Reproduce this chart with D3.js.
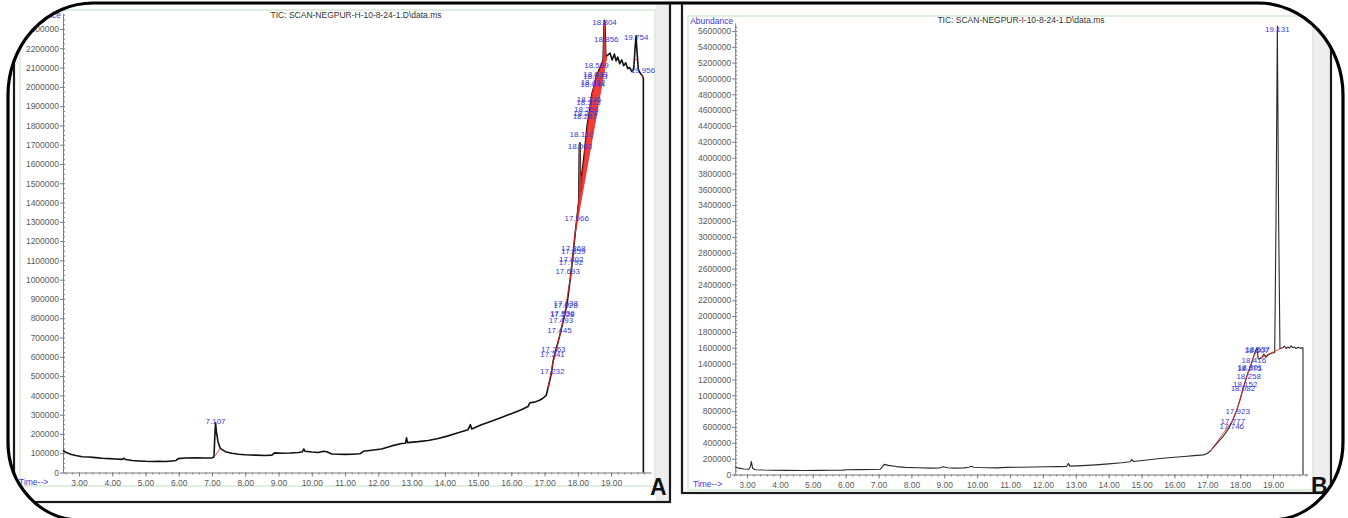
<!DOCTYPE html>
<html><head><meta charset="utf-8">
<script src="https://cdn.jsdelivr.net/npm/d3@7"></script>
<style>
body{margin:0;background:#fff}
svg{display:block}
text{font-family:"Liberation Sans",Arial,sans-serif}
</style>
</head><body>
<svg id="c" width="1348" height="518"></svg>
<script>
// ---- Sample H : total ion chromatogram ----
const traceTimeA = [2.52,2.6,2.75,2.9,3.1,3.3,3.5,3.7,3.9,4.1,4.3,4.35,4.4,4.6,4.8,5.0,5.2,5.4,5.6,5.8,5.92,5.98,6.2,6.5,6.8,7.0,7.06,7.08,7.107,7.13,7.18,7.25,7.4,7.6,7.8,8.0,8.3,8.6,8.8,8.88,9.1,9.35,9.6,9.72,9.76,9.8,10.0,10.2,10.35,10.45,10.6,10.8,11.0,11.2,11.45,11.55,11.8,12.1,12.4,12.7,12.82,12.85,12.88,13.2,13.5,13.8,14.1,14.4,14.7,14.77,14.81,15.1,15.4,15.7,16.0,16.3,16.5,16.56,16.7,16.85,16.95,17.05,17.12,17.2,17.26,17.35,17.47,17.58,17.68,17.77,17.85,17.92,17.98,18.03,18.045,18.065,18.085,18.12,18.2,18.28,18.35,18.42,18.5,18.56,18.62,18.7,18.76,18.795,18.81,18.84,18.9,18.97,19.03,19.1,19.15,19.2,19.26,19.32,19.38,19.44,19.5,19.56,19.62,19.68,19.72,19.75,19.78,19.82,19.88,19.93,19.97,19.971];
const traceAbundA = [115000,105000,95000,88000,82000,80000,77000,74000,72000,70000,68000,74000,67000,62000,60000,58000,57000,58000,57000,60000,62000,72000,75000,76000,75000,76000,80000,170000,258000,215000,160000,125000,108000,100000,95000,92000,90000,88000,90000,102000,100000,101000,104000,108000,122000,110000,106000,104000,110000,108000,96000,95000,94000,95000,97000,110000,115000,122000,138000,150000,152000,180000,155000,160000,166000,176000,190000,206000,222000,248000,226000,248000,266000,285000,305000,325000,342000,362000,365000,375000,385000,400000,450000,510000,580000,640000,720000,800000,880000,1000000,1120000,1240000,1330000,1410000,1700000,1710000,1460000,1540000,1660000,1800000,1870000,1960000,2010000,2060000,2080000,2110000,2140000,2345000,2335000,2160000,2165000,2175000,2140000,2170000,2135000,2155000,2120000,2140000,2110000,2125000,2095000,2100000,2080000,2090000,2200000,2265000,2180000,2090000,2070000,2060000,2045000,0];
const peakRtA = [7.107,17.232,17.241,17.263,17.445,17.493,17.528,17.536,17.628,17.638,17.693,17.792,17.802,17.859,17.868,17.966,18.063,18.110,18.212,18.229,18.256,18.323,18.336,18.444,18.452,18.523,18.533,18.559,18.856,18.804,19.754,19.956];
const peakLabelAbundA = [267000,526000,615000,640000,739000,791000,822000,827000,869000,879000,1045000,1092000,1107000,1149000,1164000,1320000,1693000,1756000,1849000,1865000,1885000,1922000,1937000,2015000,2025000,2057000,2067000,2114000,2249000,2337000,2259000,2088000];
const baselinesA = [[7.06,7.25],[17.1,17.25],[17.24,17.47],[17.46,17.6],[17.6,17.78],[17.77,17.92],[17.92,18.12],[17.92,18.88],[18.2,18.45],[18.45,18.6],[18.74,18.86],[19.7,19.8],[19.9,19.97]];
const shadedA = [[17.92,18.88]];
const shadedLightA = [[17.92,18.12],[18.74,18.86]];
const yTicksA = d3.range(0, 2300001, 100000);

// ---- Sample I : total ion chromatogram ----
const traceTimeB = [2.64,2.75,2.9,3.05,3.1,3.13,3.17,3.25,3.5,3.8,4.2,4.7,5.2,5.6,5.9,6.05,6.4,6.8,7.05,7.12,7.17,7.3,7.55,7.8,8.2,8.6,8.85,8.97,9.1,9.3,9.6,9.75,9.82,9.9,10.1,10.3,10.6,10.9,11.3,11.7,12.1,12.5,12.72,12.77,12.82,13.2,13.6,14.0,14.4,14.65,14.7,14.75,15.1,15.5,15.9,16.3,16.6,16.88,17.0,17.1,17.2,17.35,17.47,17.6,17.7,17.8,17.9,18.0,18.08,18.15,18.23,18.3,18.35,18.44,18.507,18.55,18.65,18.72,18.78,18.85,18.95,19.05,19.09,19.131,19.17,19.21,19.3,19.35,19.4,19.45,19.5,19.55,19.6,19.65,19.7,19.75,19.8,19.85,19.91,19.911];
const traceAbundB = [92000,80000,70000,66000,95000,165000,80000,60000,56000,54000,52000,50000,52000,54000,55000,60000,62000,64000,66000,100000,128000,115000,100000,90000,85000,80000,82000,98000,85000,80000,84000,92000,104000,92000,88000,86000,84000,90000,92000,95000,97000,100000,102000,140000,106000,112000,122000,134000,148000,160000,190000,165000,180000,198000,214000,228000,238000,248000,265000,300000,350000,420000,474000,550000,620000,710000,815000,950000,1070000,1170000,1280000,1350000,1410000,1530000,1600000,1460000,1470000,1520000,1480000,1510000,1530000,1540000,3200000,5660000,3200000,1590000,1600000,1620000,1590000,1610000,1595000,1625000,1600000,1610000,1590000,1605000,1600000,1595000,1600000,0];
const peakRtB = [17.746,17.777,17.923,18.082,18.152,18.258,18.275,18.301,18.416,18.507,18.537,19.131];
const peakLabelAbundB = [612000,675000,802000,1092000,1143000,1244000,1345000,1357000,1446000,1572000,1585000,5620000];
const baselinesB = [[17.1,17.76],[17.76,17.93],[17.93,18.09],[18.09,18.27],[18.27,18.42],[18.42,18.52],[18.55,19.25]];
const yTicksB = d3.range(0, 5600001, 200000);

const xTicks = d3.range(3, 20, 1);
const xMinor = d3.range(2.6, 20.1, 0.2).map(v => +v.toFixed(1));

const svg = d3.select("#c");
const blue = "#3b3bd4";
const red = "#ec2a24";

function valueAt(ts, vs, t) {
  const i = d3.bisectLeft(ts, t);
  if (i <= 0) return vs[0];
  if (i >= ts.length) return vs[vs.length - 1];
  const t0 = ts[i - 1], t1 = ts[i];
  return vs[i - 1] + (vs[i] - vs[i - 1]) * (t - t0) / (t1 - t0);
}

// panel frames
function frames(p) {
  svg.append("rect").attr("x", p.inner[0]).attr("y", p.inner[1])
    .attr("width", p.inner[2] - p.inner[0]).attr("height", p.inner[3] - p.inner[1])
    .attr("fill", "#fff").attr("stroke", "#d6e9d6").attr("stroke-width", 1.5);
  svg.append("rect").attr("x", p.inner[2] + 1).attr("y", p.outer[1])
    .attr("width", p.outer[2] - p.inner[2] - 2).attr("height", p.outer[3] - p.outer[1])
    .attr("fill", "#eeeeee");
  svg.append("rect").attr("x", p.outer[0]).attr("y", p.outer[1])
    .attr("width", p.outer[2] - p.outer[0]).attr("height", p.outer[3] - p.outer[1])
    .attr("fill", "none").attr("stroke", "#1a1a1a").attr("stroke-width", 2.2);
}

function panel(p) {
  const x = d3.scaleLinear().domain(p.xDomain).range(p.xRange);
  const y = d3.scaleLinear().domain(p.yDomain).range(p.yRange);
  const g = svg.append("g");
  const y0 = y(0);

  // y axis: labelled ticks and minor ticks
  const ya = g.append("g").attr("transform", `translate(${p.xRange[0]},0)`)
    .call(d3.axisLeft(y).tickValues(p.yTicks).tickSize(3).tickSizeOuter(0).tickFormat(d3.format("d")));
  g.append("g").attr("transform", `translate(${p.xRange[0]},0)`)
    .call(d3.axisRight(y).tickValues(d3.range(0, p.yDomain[1], p.yMinor)).tickSize(2).tickSizeOuter(0).tickFormat(""))
    .select(".domain").remove();
  // x axis
  const xa = g.append("g").attr("transform", `translate(0,${y0})`)
    .call(d3.axisBottom(x).tickValues(xTicks).tickSize(4).tickSizeOuter(0).tickFormat(d3.format(".2f")));
  g.append("g").attr("transform", `translate(0,${y0})`)
    .call(d3.axisBottom(x).tickValues(xMinor).tickSize(2).tickSizeOuter(0).tickFormat(""))
    .select(".domain").remove();
  g.selectAll(".domain, .tick line").attr("stroke", "#7c7c7c").attr("stroke-width", 1);
  g.selectAll(".tick text").attr("fill", "#5a5a5a").attr("font-size", 8.5)
    .attr("font-family", '"Liberation Sans",Arial,sans-serif');
  ya.selectAll(".tick text").attr("x", -4);
  xa.selectAll(".tick text").attr("y", 7);

  // trace
  const pts = p.time.map((t, i) => [t, p.abund[i]]);
  const line = d3.line().x(d => x(d[0])).y(d => y(d[1]));
  g.append("path").attr("d", line(pts)).attr("fill", "none")
    .attr("stroke", p.traceColor).attr("stroke-width", p.traceWidth).attr("stroke-linejoin", "round");

  // shaded integration regions
  function region(span) {
    const [a, b] = span;
    const va = valueAt(p.time, p.abund, a), vb = valueAt(p.time, p.abund, b);
    const ts = [a, ...p.time.filter(t => t > a && t < b), b];
    return ts.map(t => ({ t, top: valueAt(p.time, p.abund, t), base: va + (vb - va) * (t - a) / (b - a) }));
  }
  const area = d3.area().x(d => x(d.t)).y0(d => y(d.base)).y1(d => y(d.top));
  (p.shadedLight || []).forEach(s => g.append("path").attr("d", area(region(s)))
    .attr("fill", "#f39a9a").attr("opacity", 0.85));
  (p.shaded || []).forEach(s => g.append("path").attr("d", area(region(s)))
    .attr("fill", "#f01c16").attr("opacity", 0.85));

  // integration baselines
  p.baselines.forEach(([a, b]) => {
    g.append("line")
      .attr("x1", x(a)).attr("y1", y(valueAt(p.time, p.abund, a)))
      .attr("x2", x(b)).attr("y2", y(valueAt(p.time, p.abund, b)))
      .attr("stroke", red).attr("stroke-width", 1).attr("opacity", 0.85);
  });

  // retention-time labels
  g.selectAll("text.rt").data(p.peakRt).join("text").attr("class", "rt")
    .attr("x", d => x(d)).attr("y", (d, i) => y(p.peakLabel[i]) + 3)
    .attr("text-anchor", "middle").attr("font-size", 8).attr("fill", blue)
    .text(d => d3.format(".3f")(d));

  // titles
  g.append("text").attr("x", p.title[0]).attr("y", p.title[1]).attr("text-anchor", "middle")
    .attr("font-size", 8.5).attr("fill", "#333").text(p.titleText);
  g.append("text").attr("x", p.xRange[0] - 2).attr("y", p.abundY).attr("text-anchor", "end")
    .attr("font-size", 8.5).attr("fill", blue).text("Abundance");
  g.append("text").attr("x", p.timeX).attr("y", y0 + 12).attr("font-size", 8.5)
    .attr("fill", blue).text("Time-->");
}

const pA = {
  inner: [20, 10, 655, 486], outer: [14, 3, 670, 502],
  xDomain: [2.52, 20.2], xRange: [63, 651],
  yDomain: [0, 2380000], yRange: [472.5, 13.6], yTicks: yTicksA, yMinor: 25000,
  time: traceTimeA, abund: traceAbundA, peakRt: peakRtA, peakLabel: peakLabelAbundA,
  baselines: baselinesA, shaded: shadedA, shadedLight: shadedLightA,
  traceColor: "#111", traceWidth: 1.6,
  title: [356, 18], titleText: "TIC: SCAN-NEGPUR-H-10-8-24-1.D\\data.ms",
  abundY: 18, timeX: 19
};
const pB = {
  inner: [688, 16, 1313, 490], outer: [682, 3, 1331, 493],
  xDomain: [2.64, 20.06], xRange: [735.2, 1307.9],
  yDomain: [0, 5700000], yRange: [474.5, 23], yTicks: yTicksB, yMinor: 50000,
  time: traceTimeB, abund: traceAbundB, peakRt: peakRtB, peakLabel: peakLabelAbundB,
  baselines: baselinesB,
  traceColor: "#2a2a2a", traceWidth: 1.1,
  title: [1021, 23], titleText: "TIC: SCAN-NEGPUR-I-10-8-24-1.D\\data.ms",
  abundY: 24, timeX: 693
};

frames(pA);
frames(pB);
panel(pA);
panel(pB);

// rounded outer border, with white outside it
const L = 8, T = 3, R = 1343, B = 520;
const rtx = 85, rty = 92, rbx = 72, rby = 78;
const border = `M${L + rtx},${T} H${R - rtx} A${rtx},${rty} 0 0 1 ${R},${T + rty} V${B - rby} A${rbx},${rby} 0 0 1 ${R - rbx},${B} H${L + rbx} A${rbx},${rby} 0 0 1 ${L},${B - rby} V${T + rty} A${rtx},${rty} 0 0 1 ${L + rtx},${T} Z`;
svg.append("path").attr("d", `M-5,-5 H1353 V523 H-5 Z ` + border)
  .attr("fill", "#fff").attr("fill-rule", "evenodd");
svg.append("path").attr("d", border).attr("fill", "none")
  .attr("stroke", "#000").attr("stroke-width", 3.2);

// panel letters
svg.append("text").attr("x", 650).attr("y", 495).attr("font-size", 23)
  .attr("font-weight", "bold").attr("fill", "#111").text("A");
svg.append("text").attr("x", 1311).attr("y", 494).attr("font-size", 23)
  .attr("font-weight", "bold").attr("fill", "#111").text("B");
</script>
</body></html>
